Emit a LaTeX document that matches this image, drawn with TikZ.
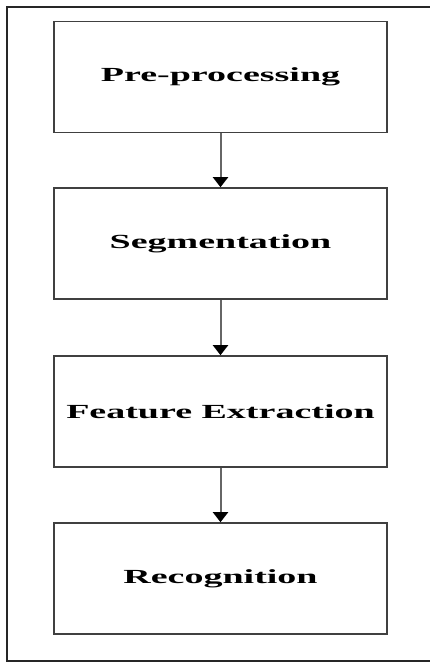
\documentclass[tikz,border=0pt]{standalone}
\usepackage{fontspec}
\setmainfont{Liberation Serif}
\usetikzlibrary{arrows.meta}

\tikzset{
    stagebox/.style = {draw = black!75, line width = 1.6pt, fill = white,
        minimum width = 333pt, minimum height = 111pt, inner sep = 0pt,
        font = \bfseries\fontsize{20}{24}\selectfont},
    flow/.style = {draw = black!60, line width = 2pt,
        -{Triangle[width = 15pt, length = 10pt, color = black]}},
    frameline/.style = {draw = black!85, line width = 1.8pt}
}

\begin{document}
\begin{tikzpicture}[x = 1pt, y = -1pt]
    \useasboundingbox (0, 0) rectangle (430, 662);

    % outer frame (open on the right)
    \draw [frameline] (430, 7) -- (7, 7) -- (7, 661) -- (430, 661);

    \node [stagebox] (pre) at (220.5, 77) {\scalebox{1.9}[1]{Pre-processing}};
    \node [stagebox] (seg) at (220.5, 243.5) {\scalebox{1.9}[1]{Segmentation}};
    \node [stagebox] (feat) at (220.5, 411.5) {\scalebox{1.9}[1]{Feature Extraction}};
    \node [stagebox] (rec) at (220.5, 578.5) {\scalebox{1.9}[1]{Recognition}};

    %%%%%%%%%%%%%%%%%%%%
    \draw [flow] (pre) -- (seg);
    \draw [flow] (seg) -- (feat);
    \draw [flow] (feat) -- (rec);
\end{tikzpicture}
\end{document}
